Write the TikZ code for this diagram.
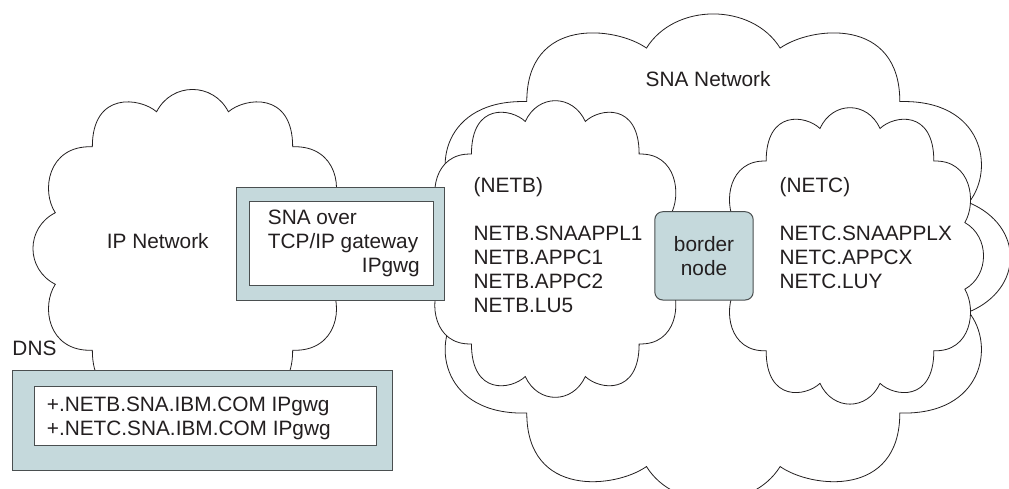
\documentclass[tikz,border=0pt]{standalone}
\usepackage{fontspec}
\setmainfont{Liberation Sans}
\definecolor{boxfill}{HTML}{C5D9DC}
\definecolor{boxline}{HTML}{4A4F50}
\definecolor{ink}{HTML}{231F20}
\newcommand{\netcloud}[4]{%
  \begin{scope}[shift={(#1,#2)},x=#3pt,y=#4pt]
    \draw[cloudline] (-.225,.86)
      .. controls (-.13,1.047) and (.13,1.047) .. (.225,.86)
      .. controls (.33,.95) and (.628,.99) .. (.628,.64)
      .. controls (.91,.65) and (.95,.36) .. (.86,.225)
      .. controls (1.047,.13) and (1.047,-.13) .. (.86,-.225)
      .. controls (.95,-.36) and (.91,-.65) .. (.628,-.64)
      .. controls (.628,-.99) and (.33,-.95) .. (.225,-.86)
      .. controls (.13,-1.047) and (-.13,-1.047) .. (-.225,-.86)
      .. controls (-.33,-.95) and (-.628,-.99) .. (-.628,-.64)
      .. controls (-.91,-.65) and (-.95,-.36) .. (-.86,-.225)
      .. controls (-1.047,-.13) and (-1.047,.13) .. (-.86,.225)
      .. controls (-.95,.36) and (-.91,.65) .. (-.628,.64)
      .. controls (-.628,.99) and (-.33,.95) .. (-.225,.86) -- cycle;
  \end{scope}}
\tikzset{
  cloudline/.style={draw=ink,fill=white,line width=0.8pt},
  outerbox/.style={draw=boxline,fill=boxfill,line width=1pt,inner sep=0pt,minimum width=#1},
  innerbox/.style={draw=boxline,fill=white,line width=1pt,inner sep=0pt,minimum width=#1},
  txt/.style={inner sep=0pt,anchor=base west,text=ink,font=\fontsize{20.8}{24}\selectfont},
  txtr/.style={txt,anchor=base east},
  txtc/.style={txt,anchor=base}
}
\begin{document}
\begin{tikzpicture}[x=1pt,y=-1pt]
\useasboundingbox (0,0) rectangle (1009,488);
\clip (0,0) rectangle (1009,488);
\fill[white] (0,0) rectangle (1009,488);
\netcloud{192.5}{248.5}{159.5}{159}
\netcloud{713.3}{257.3}{297}{243.3}
\netcloud{555.3}{249}{133.5}{148.3}
\netcloud{850}{255.9}{133.5}{148.2}
\node[outerbox=208.4pt,minimum height=113.4pt] (gwouter) at (340.5,244) {};
\node[innerbox=184.4pt,minimum height=84pt] (gwinner) at (341.5,243) {};
\node[outerbox=380.4pt,minimum height=100pt] (dnsouter) at (202.5,420.3) {};
\node[innerbox=342.4pt,minimum height=59.4pt] (dnsinner) at (205.5,416) {};
\node[outerbox=98.4pt,minimum height=88.3pt,rounded corners=8pt] (border) at (704,255.85) {};
\node[txt] (iplabel) at (106.7,248) {IP Network};
\node[txt] (gw1) at (267.7,224) {SNA over};
\node[txt] (gw2) at (267.7,248) {TCP/IP gateway};
\node[txtr] (gw3) at (420,272) {IPgwg};
\node[txt] (dnslabel) at (12.3,355.7) {DNS};
\node[txt] (dns1) at (46.7,411.7) {+.NETB.SNA.IBM.COM IPgwg};
\node[txt] (dns2) at (46.7,435.7) {+.NETC.SNA.IBM.COM IPgwg};
\node[txt] (snalabel) at (645.5,86.7) {SNA Network};
\node[txt] (netb) at (473.5,192.7) {(NETB)};
\node[txt] (netb1) at (473.5,240) {NETB.SNAAPPL1};
\node[txt] (netb2) at (473.5,264) {NETB.APPC1};
\node[txt] (netb3) at (473.5,288) {NETB.APPC2};
\node[txt] (netb4) at (473.5,312) {NETB.LU5};
\node[txt] (netc) at (779.5,192.7) {(NETC)};
\node[txt] (netc1) at (779.5,240) {NETC.SNAAPPLX};
\node[txt] (netc2) at (779.5,264) {NETC.APPCX};
\node[txt] (netc3) at (779.5,288) {NETC.LUY};
\node[txtc] (bn1) at (704,251.5) {border};
\node[txtc] (bn2) at (704,275) {node};
\end{tikzpicture}
\end{document}
